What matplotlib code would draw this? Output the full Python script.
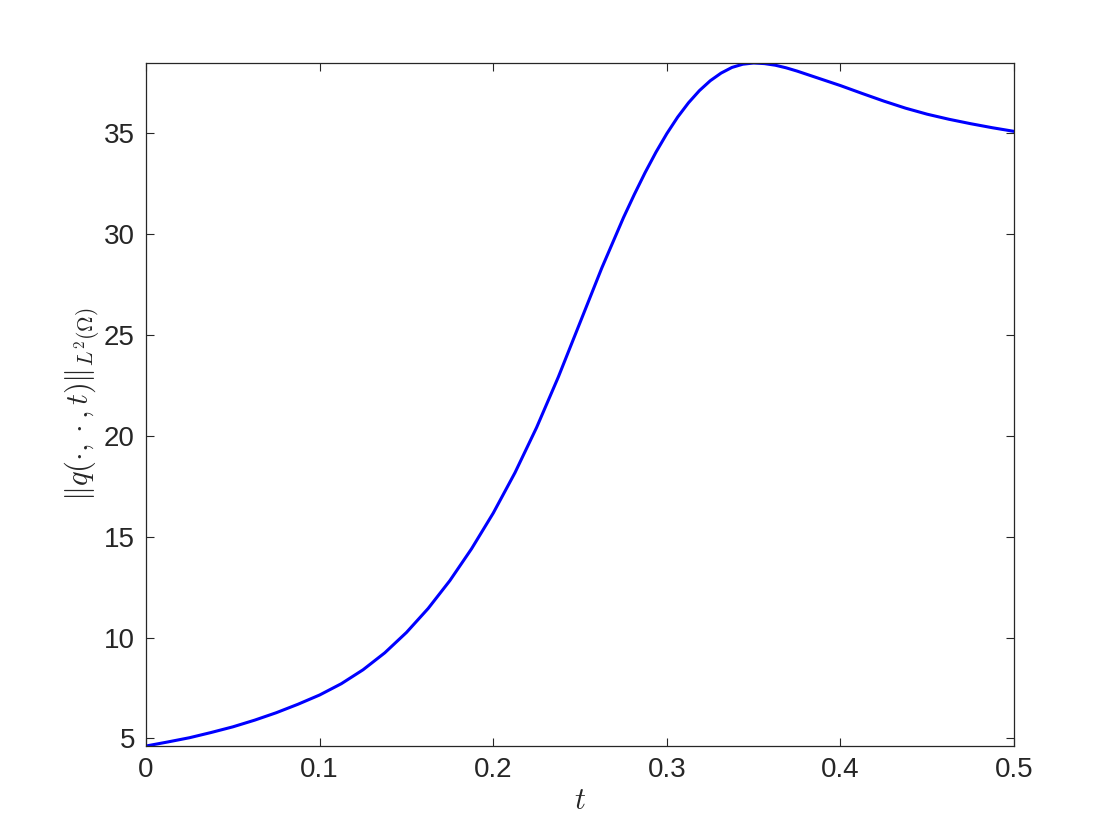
import matplotlib
matplotlib.use("Agg")
import matplotlib.pyplot as plt

# values
t = [0.0, 0.0125, 0.025, 0.0375, 0.05, 0.0625, 0.075, 0.0875, 0.1, 0.1125,
     0.125, 0.1375, 0.15, 0.1625, 0.175, 0.1875, 0.2, 0.2125, 0.225, 0.2375,
     0.25, 0.2625, 0.275, 0.28125, 0.2875, 0.29375, 0.3, 0.30625, 0.3125,
     0.31875, 0.325, 0.33125, 0.3375, 0.34375, 0.35, 0.35625, 0.3625, 0.36875,
     0.375, 0.3875, 0.4, 0.4125, 0.425, 0.4375, 0.45, 0.4625, 0.475, 0.4875, 0.5]
qnorm = [4.62, 4.82, 5.03, 5.29, 5.57, 5.90, 6.27, 6.69, 7.15, 7.71,
         8.40, 9.24, 10.25, 11.44, 12.82, 14.40, 16.17, 18.17, 20.42, 22.92,
         25.62, 28.32, 30.82, 31.97, 33.06, 34.07, 34.99, 35.81, 36.52,
         37.12, 37.61, 37.99, 38.27, 38.43, 38.49, 38.46, 38.38, 38.25,
         38.09, 37.73, 37.37, 36.98, 36.60, 36.25, 35.95, 35.70, 35.48, 35.28, 35.10]

xticks = [0, 0.1, 0.2, 0.3, 0.4, 0.5]
xticklabels = ["0", "0.1", "0.2", "0.3", "0.4", "0.5"]
yticks = [5, 10, 15, 20, 25, 30, 35]

plt.rcParams["font.family"] = ["Liberation Sans", "DejaVu Sans"]
plt.rcParams["mathtext.fontset"] = "cm"

dark = "#262626"
fig = plt.figure(figsize=(11.2, 8.4), dpi=100)
ax = fig.add_axes([0.1304, 0.1119, 0.775, 0.8131])
ax.plot(t, qnorm, color="#0000ff", lw=2.2, solid_joinstyle="round")

ax.set_xlim(0, 0.5)
ax.set_ylim(min(qnorm), max(qnorm))
ax.set_xticks(xticks)
ax.set_xticklabels(xticklabels)
ax.set_yticks(yticks)
ax.tick_params(direction="in", top=True, right=True, length=5.5, width=0.8,
               labelsize=20, colors=dark, pad=8)
for s in ax.spines.values():
    s.set_color(dark)
    s.set_linewidth(0.9)

ax.set_xlabel(r"$t$", fontsize=22, color=dark, labelpad=2)
ax.set_ylabel(r"$\|q(\cdot,\cdot,t)\|_{L^2(\Omega)}$", fontsize=22, color=dark,
              labelpad=2)

fig.savefig("out.png", dpi=100)
